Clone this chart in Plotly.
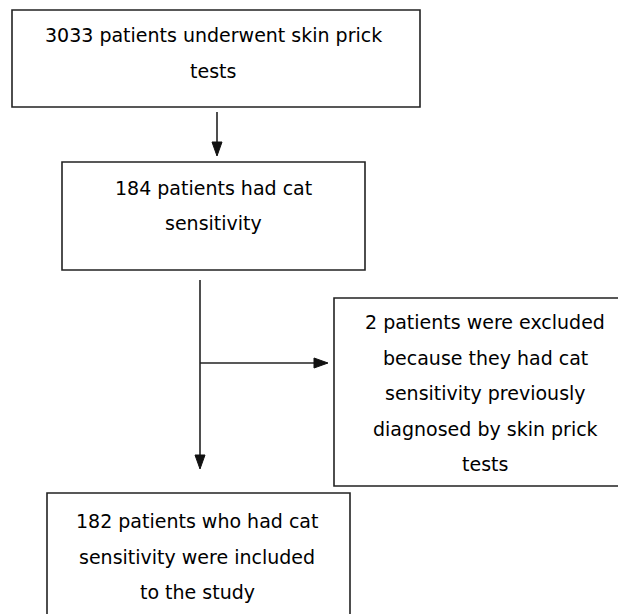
import plotly.graph_objects as go

# Box contents (text lines)
box_texts = [
    ["3033 patients underwent skin prick", "tests"],
    ["184 patients had cat", "sensitivity"],
    ["2 patients were excluded", "because they had cat", "sensitivity previously",
     "diagnosed by skin prick", "tests"],
    ["182 patients who had cat", "sensitivity were included", "to the study"],
]

# Layout geometry (pixels)
box_x0 = [12, 62, 334, 47]
box_x1 = [420, 365, 640, 350]
box_y0 = [10, 162, 298, 493]
box_y1 = [107, 270, 486, 640]
text_cx = [213, 213, 485, 197]
text_y_first = [35, 188, 322, 521]
line_gap = [36, 35, 35.5, 35.5]

# Arrows: (x0, y0, x1, y1) tip at (x1, y1)
arrows = [
    (217, 112, 217, 156),
    (200, 280, 200, 469),
    (200, 363, 328, 363),
]

W, H = 626, 614
OFF = 8  # page body margin
fig = go.Figure()
shapes = []
annotations = []
line_col = "#222222"
for i in range(len(box_texts)):
    shapes.append(dict(type="rect", xref="x", yref="y",
                       x0=box_x0[i], x1=box_x1[i], y0=box_y0[i], y1=box_y1[i],
                       line=dict(color=line_col, width=1.6), fillcolor="rgba(0,0,0,0)"))
    for j, t in enumerate(box_texts[i]):
        annotations.append(dict(x=text_cx[i], y=text_y_first[i] + j * line_gap[i],
                                xref="x", yref="y", text=t, showarrow=False,
                                xanchor="center", yanchor="middle",
                                font=dict(family="DejaVu Sans", size=19, color="#000000")))

head_len, head_half = 14, 5
for (x0, y0, x1, y1) in arrows:
    if x0 == x1:
        d = 1 if y1 > y0 else -1
        shapes.append(dict(type="line", xref="x", yref="y", x0=x0, y0=y0, x1=x1,
                           y1=y1 - d * head_len + d * 2, line=dict(color=line_col, width=1.6)))
        path = f"M {x1-head_half},{y1-d*head_len} L {x1+head_half},{y1-d*head_len} L {x1},{y1} Z"
    else:
        d = 1 if x1 > x0 else -1
        shapes.append(dict(type="line", xref="x", yref="y", x0=x0, y0=y0,
                           x1=x1 - d * head_len + d * 2, y1=y1, line=dict(color=line_col, width=1.6)))
        path = f"M {x1-d*head_len},{y1-head_half} L {x1-d*head_len},{y1+head_half} L {x1},{y1} Z"
    shapes.append(dict(type="path", xref="x", yref="y", path=path,
                       fillcolor="#111111", line=dict(color="#111111", width=1)))

fig.update_layout(
    width=W, height=H, margin=dict(l=0, r=0, t=0, b=0),
    paper_bgcolor="white", plot_bgcolor="white",
    xaxis=dict(range=[OFF, W + OFF], visible=False, fixedrange=True),
    yaxis=dict(range=[H + OFF, OFF], visible=False, fixedrange=True),
    shapes=shapes, annotations=annotations, showlegend=False,
)
fig.write_html("out.html")
